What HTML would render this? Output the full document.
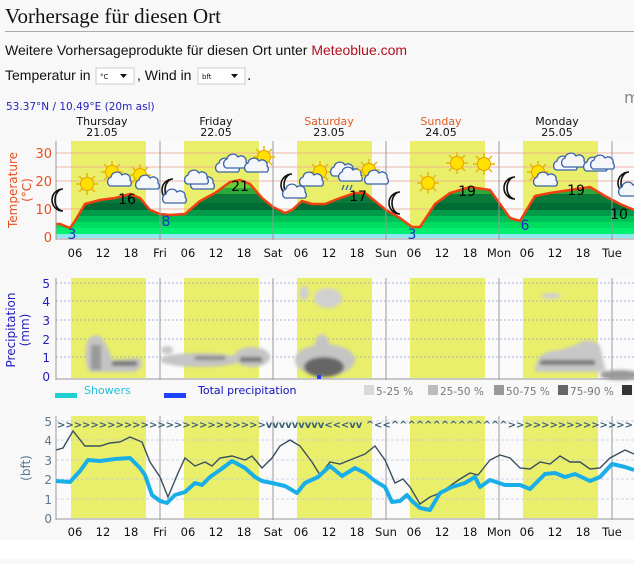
<!DOCTYPE html>
<html><head><meta charset="utf-8"><style>
body{margin:0;width:634px;height:559px;overflow:hidden;background:#f8f8f8;font-family:"Liberation Sans",sans-serif}
</style></head><body>
<svg width="634" height="559" viewBox="0 0 634 559" xmlns="http://www.w3.org/2000/svg" font-family="DejaVu Sans, sans-serif">
<defs>
<clipPath id="tc"><path d="M56,238 L56,224 L60,224 L70,228 L75,221 L85,204 L100,200 L115,198 L130,194 L140,198 L150,210 L160,214 L170,215 L185,214 L200,201 L215,193 L230,182 L240,180 L250,184 L262,198 L273,207 L285,213 L292,210 L302,201 L312,204 L325,204 L340,198 L355,193 L365,193 L375,201 L386,210 L400,218 L412,227 L420,227 L435,204 L450,193 L470,187 L490,190 L500,204 L510,218 L520,221 L535,196 L550,193 L570,190 L590,187 L605,196 L620,204 L634,210 L634,238 Z"/></clipPath>
<filter id="bl"><feGaussianBlur stdDeviation="1.5"/></filter>
<g id="sun"><g stroke="#e8b800" stroke-width="1.5"><line x1="-11" y1="0" x2="11" y2="0"/><line x1="0" y1="-11" x2="0" y2="11"/><line x1="-8" y1="-8" x2="8" y2="8"/><line x1="-8" y1="8" x2="8" y2="-8"/></g><circle r="6.5" fill="#ffe000" stroke="#e8a000"/></g>
<g id="cl"><path d="M-10,6 a5,5 0 0 1 1,-9 a6,6 0 0 1 11,-2 a5,5 0 0 1 8,5 a4,4 0 0 1 0,6 Z" fill="#f4f6fa" stroke="#3a64a8" stroke-width="1.3"/></g>
<g id="moon"><path d="M3,-11 a11,11 0 1 0 0,22 a8,11 0 1 1 0,-22 Z" fill="#fff" stroke="#111" stroke-width="1.6"/></g>
</defs>
<text x="5" y="23" font-family="Liberation Serif,serif" font-size="21" fill="#111">Vorhersage für diesen Ort</text>
<rect x="5" y="31" width="629" height="1" fill="#aaa"/>
<text x="5" y="55" font-family="Liberation Sans,sans-serif" font-size="14" fill="#111">Weitere Vorhersageprodukte für diesen Ort unter <tspan fill="#b01020">Meteoblue.com</tspan></text>
<text x="5" y="80" font-family="Liberation Sans,sans-serif" font-size="14" fill="#111">Temperatur in</text>
<rect x="96" y="68" width="38" height="16" fill="#fff" stroke="#ccc"/><text x="100" y="79" font-size="7" fill="#111">°C</text><path d="M120,74 l7,0 l-3.5,4z" fill="#111"/>
<text x="137" y="80" font-family="Liberation Sans,sans-serif" font-size="14" fill="#111">, Wind in</text>
<rect x="198" y="68" width="47" height="16" fill="#fff" stroke="#ccc"/><text x="202" y="79" font-size="7" fill="#111">bft</text><path d="M231,74 l7,0 l-3.5,4z" fill="#111"/>
<text x="247" y="80" font-size="14" fill="#111">.</text>
<text x="6" y="110" font-size="10.5" fill="#2424c0">53.37°N / 10.49°E (20m asl)</text>
<text x="624" y="103" font-size="16" fill="#888">m</text>
<g font-size="11" text-anchor="middle" fill="#111">
<text x="102" y="125">Thursday</text><text x="102" y="136">21.05</text>
<text x="216" y="125">Friday</text><text x="216" y="136">22.05</text>
<text x="329" y="125" fill="#e05a20">Saturday</text><text x="329" y="136">23.05</text>
<text x="441" y="125" fill="#e05a20">Sunday</text><text x="441" y="136">24.05</text>
<text x="557" y="125">Monday</text><text x="557" y="136">25.05</text>
</g>
<rect x="56" y="141" width="578" height="97" fill="#fafafa"/>
<rect x="56" y="278" width="578" height="100" fill="#fafafa"/>
<rect x="56" y="416" width="578" height="102" fill="#fafafa"/>
<g fill="#e9ef6a">
<rect x="71" y="141" width="75" height="97"/><rect x="184" y="141" width="75" height="97"/><rect x="297" y="141" width="75" height="97"/><rect x="410" y="141" width="75" height="97"/><rect x="523" y="141" width="75" height="97"/>
<rect x="71" y="278" width="75" height="100"/><rect x="184" y="278" width="75" height="100"/><rect x="297" y="278" width="75" height="100"/><rect x="410" y="278" width="75" height="100"/><rect x="523" y="278" width="75" height="100"/>
<rect x="71" y="416" width="75" height="102"/><rect x="184" y="416" width="75" height="102"/><rect x="297" y="416" width="75" height="102"/><rect x="410" y="416" width="75" height="102"/><rect x="523" y="416" width="75" height="102"/>
</g>
<g stroke="#f0a090" stroke-width="0.8"><line x1="56" y1="153" x2="634" y2="153"/><line x1="56" y1="167" x2="634" y2="167"/><line x1="56" y1="181" x2="634" y2="181"/><line x1="56" y1="209" x2="634" y2="209"/></g>
<g clip-path="url(#tc)">
<rect x="56" y="170" width="578" height="10" fill="#a8e840"/>
<rect x="56" y="180" width="578" height="8" fill="#66cc33"/>
<rect x="56" y="188" width="578" height="6" fill="#2ea83a"/>
<rect x="56" y="194" width="578" height="9" fill="#0a7a3a"/>
<rect x="56" y="203" width="578" height="7" fill="#006b34"/>
<rect x="56" y="210" width="578" height="6" fill="#009a48"/>
<rect x="56" y="216" width="578" height="6" fill="#00c058"/>
<rect x="56" y="222" width="578" height="6" fill="#00dc5e"/>
<rect x="56" y="228" width="578" height="6" fill="#00f070"/>
<rect x="56" y="234" width="578" height="4" fill="#8ee8f0"/>
</g>
<path fill="none" stroke="#f04010" stroke-width="2.5" d="M56,224 L60,224 L70,228 L75,221 L85,204 L100,200 L115,198 L130,194 L140,198 L150,210 L160,214 L170,215 L185,214 L200,201 L215,193 L230,182 L240,180 L250,184 L262,198 L273,207 L285,213 L292,210 L302,201 L312,204 L325,204 L340,198 L355,193 L365,193 L375,201 L386,210 L400,218 L412,227 L420,227 L435,204 L450,193 L470,187 L490,190 L500,204 L510,218 L520,221 L535,196 L550,193 L570,190 L590,187 L605,196 L620,204 L634,210"/>
<g stroke="#999" stroke-width="1">
<line x1="160" y1="141" x2="160" y2="240"/><line x1="273" y1="141" x2="273" y2="240"/><line x1="386" y1="141" x2="386" y2="240"/><line x1="499" y1="141" x2="499" y2="240"/><line x1="612" y1="141" x2="612" y2="240"/>
<line x1="160" y1="278" x2="160" y2="380"/><line x1="273" y1="278" x2="273" y2="380"/><line x1="386" y1="278" x2="386" y2="380"/><line x1="499" y1="278" x2="499" y2="380"/><line x1="612" y1="278" x2="612" y2="380"/>
<line x1="160" y1="416" x2="160" y2="520"/><line x1="273" y1="416" x2="273" y2="520"/><line x1="386" y1="416" x2="386" y2="520"/><line x1="499" y1="416" x2="499" y2="520"/><line x1="612" y1="416" x2="612" y2="520"/>
<line x1="56" y1="141" x2="56" y2="240"/><line x1="56" y1="278" x2="56" y2="380"/><line x1="56" y1="416" x2="56" y2="520"/>
<line x1="56" y1="239" x2="634" y2="239"/><line x1="56" y1="379" x2="634" y2="379"/><line x1="56" y1="519" x2="634" y2="519"/>
</g>
<g font-size="13" fill="#e85020" text-anchor="end"><text x="52" y="158">30</text><text x="52" y="186">20</text><text x="52" y="214">10</text><text x="52" y="242">0</text></g>
<text transform="translate(17,190) rotate(-90)" font-size="12" fill="#e85020" text-anchor="middle">Temperature</text>
<text transform="translate(31,190) rotate(-90)" font-size="12" fill="#e85020" text-anchor="middle">(°C)</text>
<g font-size="14" text-anchor="middle">
<text x="72" y="239" fill="#2030c0">3</text><text x="166" y="226" fill="#2030c0">8</text><text x="127" y="204">16</text><text x="240" y="191">21</text><text x="358" y="201">17</text><text x="412" y="239" fill="#2030c0">3</text><text x="467" y="196">19</text><text x="525" y="230" fill="#2030c0">6</text><text x="576" y="195">19</text><text x="619" y="219">10</text>
</g>
<use href="#moon" x="60" y="200"/><use href="#sun" x="87" y="184"/>
<use href="#sun" x="112" y="172"/><use href="#cl" x="120" y="180"/>
<use href="#sun" x="140" y="175"/><use href="#cl" x="148" y="183"/>
<use href="#moon" x="170" y="190"/><use href="#cl" x="175" y="197"/>
<use href="#cl" x="203" y="183"/><use href="#cl" x="197" y="178"/>
<use href="#cl" x="228" y="166"/><use href="#cl" x="236" y="162"/>
<use href="#sun" x="264" y="157"/><use href="#cl" x="257" y="166"/>
<use href="#moon" x="289" y="185"/><use href="#cl" x="295" y="192"/>
<use href="#sun" x="320" y="172"/><use href="#cl" x="312" y="180"/>
<use href="#cl" x="343" y="170"/><use href="#cl" x="351" y="175"/><path d="M344,185 l-2,5 M348,185 l-2,5 M352,185 l-2,5" stroke="#3a64a8" stroke-width="1.3"/>
<use href="#sun" x="369" y="170"/><use href="#cl" x="377" y="178"/>
<use href="#moon" x="397" y="203"/>
<use href="#sun" x="428" y="183"/><use href="#sun" x="457" y="163"/><use href="#sun" x="484" y="164"/>
<use href="#moon" x="512" y="188"/>
<use href="#sun" x="538" y="172"/><use href="#cl" x="546" y="180"/>
<use href="#cl" x="566" y="164"/><use href="#cl" x="574" y="161"/>
<use href="#cl" x="596" y="165"/><use href="#cl" x="603" y="163"/>
<use href="#moon" x="626" y="183"/><use href="#cl" x="631" y="190"/>
<g font-size="11.5" fill="#111" text-anchor="middle">
<text x="75" y="257">06</text><text x="103" y="257">12</text><text x="131" y="257">18</text><text x="160" y="257">Fri</text>
<text x="188" y="257">06</text><text x="216" y="257">12</text><text x="244" y="257">18</text><text x="273" y="257">Sat</text>
<text x="301" y="257">06</text><text x="329" y="257">12</text><text x="357" y="257">18</text><text x="386" y="257">Sun</text>
<text x="414" y="257">06</text><text x="442" y="257">12</text><text x="470" y="257">18</text><text x="499" y="257">Mon</text>
<text x="527" y="257">06</text><text x="555" y="257">12</text><text x="583" y="257">18</text><text x="612" y="257">Tue</text>
</g>
<g stroke="#9a9ad0" stroke-width="0.7" stroke-dasharray="2,2"><line x1="56" y1="283" x2="634" y2="283"/><line x1="56" y1="301" x2="634" y2="301"/><line x1="56" y1="320" x2="634" y2="320"/><line x1="56" y1="339" x2="634" y2="339"/><line x1="56" y1="357" x2="634" y2="357"/></g>
<g font-size="12" fill="#2020c0" text-anchor="end"><text x="50" y="288">5</text><text x="50" y="306">4</text><text x="50" y="325">3</text><text x="50" y="344">2</text><text x="50" y="362">1</text><text x="50" y="381">0</text></g>
<text transform="translate(15,330) rotate(-90)" font-size="12" fill="#2020c0" text-anchor="middle">Precipitation</text>
<text transform="translate(29,330) rotate(-90)" font-size="12" fill="#2020c0" text-anchor="middle">(mm)</text>
<g filter="url(#bl)">
<path d="M86,345 Q90,333 100,336 Q108,345 112,360 L140,358 Q146,366 135,372 L90,372 Q84,365 86,345Z" fill="#c4c4c4"/>
<rect x="91" y="345" width="10" height="25" fill="#999"/><rect x="112" y="361" width="25" height="5" fill="#777"/>
<ellipse cx="200" cy="360" rx="40" ry="7" fill="#c4c4c4"/><ellipse cx="252" cy="357" rx="18" ry="10" fill="#c4c4c4"/><rect x="195" y="356" width="30" height="4" fill="#888"/><rect x="240" y="357" width="22" height="5" fill="#777"/><ellipse cx="167" cy="350" rx="6" ry="4" fill="#c8c8c8"/>
<ellipse cx="325" cy="360" rx="30" ry="16" fill="#c4c4c4"/><ellipse cx="322" cy="350" rx="8" ry="16" fill="#c4c4c4"/><ellipse cx="324" cy="367" rx="20" ry="10" fill="#666"/><ellipse cx="328" cy="298" rx="14" ry="10" fill="#d0d0d0"/><ellipse cx="304" cy="293" rx="5" ry="7" fill="#d0d0d0"/>
<path d="M535,372 Q535,350 560,350 L575,345 Q590,335 600,346 L606,372Z" fill="#c8c8c8"/><rect x="540" y="360" width="55" height="5" fill="#777"/>
<ellipse cx="551" cy="296" rx="10" ry="3" fill="#d0d0d0"/><ellipse cx="620" cy="375" rx="20" ry="5" fill="#999"/>
</g>
<rect x="317" y="375" width="4" height="4" fill="#1e40ff"/>
<rect x="55" y="393" width="22" height="5" fill="#20d0d0"/><text x="84" y="394" font-size="11" fill="#20c0e0">Showers</text>
<rect x="164" y="393" width="22" height="5" fill="#1e40ff"/><text x="198" y="394" font-size="11" fill="#1010c0">Total precipitation</text>
<g font-size="10.5" fill="#777"><rect x="364" y="385" width="10" height="10" fill="#d8d8d8"/><text x="376" y="395">5-25 %</text>
<rect x="428" y="385" width="10" height="10" fill="#bbb"/><text x="440" y="395">25-50 %</text>
<rect x="494" y="385" width="10" height="10" fill="#999"/><text x="506" y="395">50-75 %</text>
<rect x="558" y="385" width="10" height="10" fill="#666"/><text x="570" y="395">75-90 %</text>
<rect x="622" y="385" width="10" height="10" fill="#333"/></g>
<g stroke="#c0c8e0" stroke-width="0.7" stroke-dasharray="3,2"><line x1="56" y1="421" x2="634" y2="421"/><line x1="56" y1="440" x2="634" y2="440"/><line x1="56" y1="460" x2="634" y2="460"/><line x1="56" y1="479" x2="634" y2="479"/><line x1="56" y1="499" x2="634" y2="499"/></g>
<g font-size="12" fill="#5a7890" text-anchor="end"><text x="52" y="426">5</text><text x="52" y="445">4</text><text x="52" y="465">3</text><text x="52" y="484">2</text><text x="52" y="504">1</text><text x="52" y="523">0</text></g>
<text transform="translate(30,468) rotate(-90)" font-size="12" fill="#5a7890" text-anchor="middle">(bft)</text>
<text x="57" y="428" font-size="10" font-weight="bold" fill="#3a6078" textLength="576" lengthAdjust="spacing">&gt;&gt;&gt;&gt;&gt;&gt;&gt;&gt;&gt;&gt;&gt;&gt;&gt;&gt;&gt;&gt;&gt;&gt;&gt;&gt;&gt;&gt;&gt;&gt;&gt;vvvvvvvvv&lt;&lt;&lt;vv ^&lt;&lt;^^^^^^^^^^^^^^&gt;&gt;&gt;&gt;&gt;&gt;&gt;&gt;&gt;&gt;&gt;&gt;&gt;&gt;&gt;</text>
<polyline fill="none" stroke="#3a4e5e" stroke-width="1.4" points="56,450 63,448 73,431 85,446 100,446 110,443 120,442 130,437 142,442 150,462 160,477 168,497 178,473 185,458 195,466 205,462 212,466 220,458 232,456 245,460 252,456 262,468 272,458 280,446 290,440 300,446 312,462 320,475 330,462 340,464 355,458 365,454 375,446 385,460 395,483 403,479 410,487 420,504 430,497 440,493 460,479 470,473 478,475 490,460 500,455 510,458 520,468 530,469 540,462 550,464 560,456 570,462 580,462 590,469 600,468 610,458 625,450 634,454"/>
<polyline fill="none" stroke="#1aaee8" stroke-width="4" stroke-linejoin="round" points="56,481 70,482 80,471 88,460 100,461 115,459 130,458 140,468 145,475 152,495 160,501 167,503 175,495 185,492 195,483 202,485 210,477 220,470 232,461 245,468 255,477 262,481 272,483 285,486 297,493 305,483 318,477 330,466 342,476 355,468 365,473 375,481 385,487 392,502 400,501 407,495 412,501 420,508 430,510 440,493 452,487 465,483 475,477 480,487 490,480 505,485 520,485 530,489 545,474 555,473 565,477 575,474 590,481 600,477 612,464 625,467 634,470"/>
<g font-size="11.5" fill="#111" text-anchor="middle">
<text x="75" y="536">06</text><text x="103" y="536">12</text><text x="131" y="536">18</text><text x="160" y="536">Fri</text>
<text x="188" y="536">06</text><text x="216" y="536">12</text><text x="244" y="536">18</text><text x="273" y="536">Sat</text>
<text x="301" y="536">06</text><text x="329" y="536">12</text><text x="357" y="536">18</text><text x="386" y="536">Sun</text>
<text x="414" y="536">06</text><text x="442" y="536">12</text><text x="470" y="536">18</text><text x="499" y="536">Mon</text>
<text x="527" y="536">06</text><text x="555" y="536">12</text><text x="583" y="536">18</text><text x="612" y="536">Tue</text>
</g>
<rect x="0" y="540" width="634" height="19" fill="#fff"/>
</svg>
</body></html>
